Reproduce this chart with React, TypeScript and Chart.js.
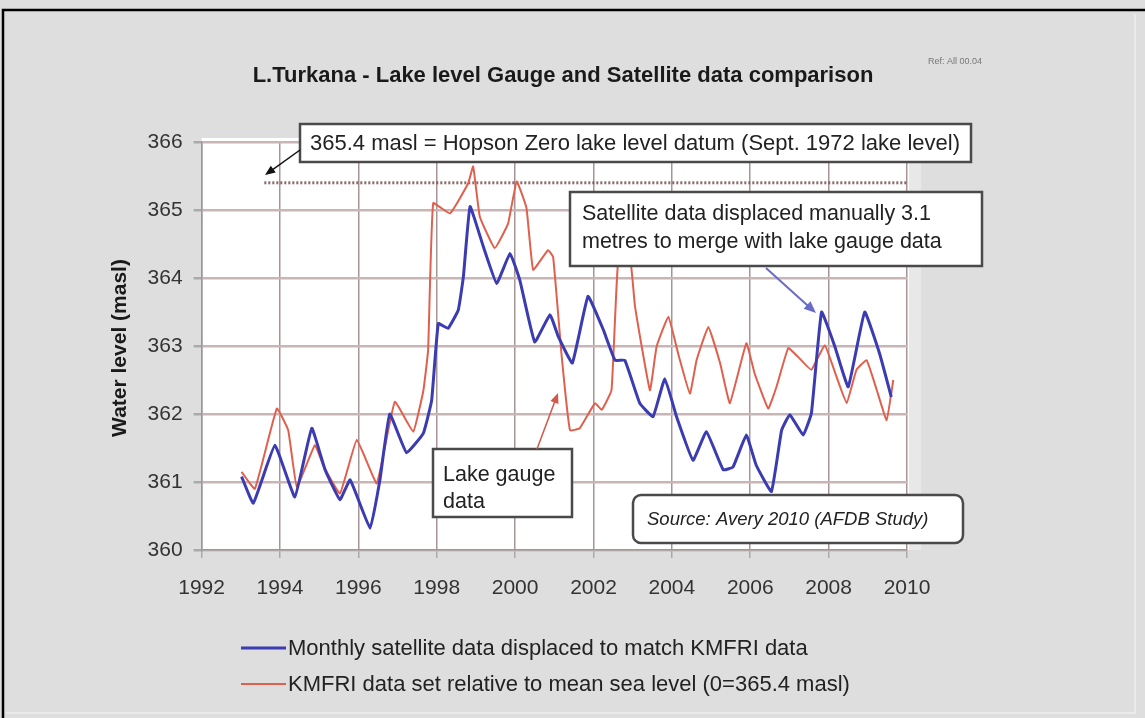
import { useEffect, useRef } from "react";
import { Chart, registerables } from "chart.js";

Chart.register(...registerables);

// Monthly satellite data (displaced) — decimal year / level (masl)
const satYears = [
  1993.02, 1993.32, 1993.87, 1994.38, 1994.81, 1995.15, 1995.53, 1995.79, 1996.3, 1996.55,
  1996.8, 1997.23, 1997.66, 1997.87, 1998.04, 1998.29, 1998.55, 1998.68, 1998.85, 1999.19,
  1999.53, 1999.87, 2000.12, 2000.5, 2000.89, 2001.1, 2001.46, 2001.86, 2002.25, 2002.55,
  2002.8, 2003.18, 2003.52, 2003.82, 2004.12, 2004.54, 2004.88, 2005.31, 2005.56, 2005.9,
  2006.15, 2006.54, 2006.8, 2007.01, 2007.35, 2007.56, 2007.82, 2008.16, 2008.5, 2008.92,
  2009.3, 2009.6,
];
const satLevels = [
  361.08, 360.69, 361.54, 360.78, 361.79, 361.18, 360.74, 361.03, 360.32, 361.03,
  362.0, 361.43, 361.72, 362.2, 363.33, 363.26, 363.53, 364.02, 365.05, 364.46,
  363.92, 364.36, 363.97, 363.06, 363.46, 363.14, 362.75, 363.73, 363.24, 362.79,
  362.79, 362.16, 361.96, 362.52, 361.96, 361.32, 361.74, 361.18, 361.22, 361.69,
  361.25, 360.86, 361.76, 361.99, 361.69, 362.01, 363.5, 362.99, 362.4, 363.5,
  362.89, 362.25,
];

// KMFRI lake gauge data relative to mean sea level
const gaugeYears = [
  1993.02, 1993.36, 1993.92, 1994.21, 1994.43, 1994.89, 1995.1, 1995.53, 1995.96, 1996.47,
  1996.93, 1997.4, 1997.66, 1997.78, 1997.91, 1998.34, 1998.8, 1998.93, 1999.1, 1999.48,
  1999.82, 2000.04, 2000.29, 2000.46, 2000.84, 2000.97, 2001.19, 2001.4, 2001.65, 2002.04,
  2002.21, 2002.46, 2002.63, 2002.93, 2003.06, 2003.44, 2003.61, 2003.91, 2004.16, 2004.46,
  2004.63, 2004.93, 2005.23, 2005.48, 2005.9, 2006.11, 2006.46, 2006.67, 2006.97, 2007.22,
  2007.56, 2007.9, 2008.2, 2008.46, 2008.71, 2008.97, 2009.23, 2009.48, 2009.65,
];
const gaugeLevels = [
  361.15, 360.9, 362.08, 361.76, 360.93, 361.54, 361.25, 360.83, 361.62, 360.98,
  362.18, 361.74, 362.35, 362.94, 365.1, 364.95, 365.39, 365.64, 364.9, 364.44,
  364.8, 365.42, 365.03, 364.12, 364.41, 364.31, 362.84, 361.76, 361.79, 362.16,
  362.06, 362.35, 364.25, 364.3, 363.58, 362.35, 362.99, 363.43, 362.89, 362.3,
  362.79, 363.28, 362.75, 362.16, 363.04, 362.6, 362.08, 362.4, 362.97, 362.84,
  362.65, 363.01, 362.55, 362.16, 362.65, 362.79, 362.35, 361.91, 362.5,
];

const yearMin = 1992;
const yearMax = 2010;
const yearStep = 2;
const levelMin = 360;
const levelMax = 366;
const levelStep = 1;
const hopsonDatum = 365.4;
const datumStartYear = 1993.6;

const chartTitle = "L.Turkana - Lake level Gauge and Satellite data comparison";
const refText = "Ref: All 00.04";
const yAxisTitle = "Water level (masl)";
const seriesLabels = [
  "Monthly satellite data displaced to match KMFRI data",
  "KMFRI data set relative to mean sea level (0=365.4 masl)",
];
const datumNote = "365.4 masl = Hopson Zero lake level datum (Sept. 1972 lake level)";
const satNote = ["Satellite data displaced manually 3.1", "metres to merge with lake gauge data"];
const gaugeNote = ["Lake gauge", "data"];
const sourceNote = "Source: Avery 2010 (AFDB Study)";

const BLUE = "#3b3bb2";
const RED = "#e0604e";
const FONT = "'Liberation Sans', Arial, sans-serif";

function arrow(ctx: CanvasRenderingContext2D, x1: number, y1: number, x2: number, y2: number, color: string, w: number, head: number) {
  const a = Math.atan2(y2 - y1, x2 - x1);
  ctx.save();
  ctx.strokeStyle = color;
  ctx.fillStyle = color;
  ctx.lineWidth = w;
  ctx.beginPath();
  ctx.moveTo(x1, y1);
  ctx.lineTo(x2 - Math.cos(a) * head * 0.7, y2 - Math.sin(a) * head * 0.7);
  ctx.stroke();
  ctx.beginPath();
  ctx.moveTo(x2, y2);
  ctx.lineTo(x2 - head * Math.cos(a - 0.4), y2 - head * Math.sin(a - 0.4));
  ctx.lineTo(x2 - head * Math.cos(a + 0.4), y2 - head * Math.sin(a + 0.4));
  ctx.closePath();
  ctx.fill();
  ctx.restore();
}

function box(ctx: CanvasRenderingContext2D, x1: number, y1: number, x2: number, y2: number, r: number) {
  ctx.save();
  ctx.fillStyle = "#ffffff";
  ctx.strokeStyle = "#4a4a4a";
  ctx.lineWidth = 2.5;
  ctx.beginPath();
  if (r > 0) {
    ctx.roundRect(x1, y1, x2 - x1, y2 - y1, r);
  } else {
    ctx.rect(x1, y1, x2 - x1, y2 - y1);
  }
  ctx.fill();
  ctx.stroke();
  ctx.restore();
}

const decor = {
  id: "decor",
  beforeDraw(chart: any) {
    const { ctx, chartArea } = chart;
    ctx.save();
    ctx.fillStyle = "#dedede";
    ctx.fillRect(0, 0, chart.width, chart.height);
    ctx.strokeStyle = "#000";
    ctx.lineWidth = 2.5;
    ctx.beginPath();
    ctx.moveTo(3, 718);
    ctx.lineTo(3, 10);
    ctx.lineTo(1145, 10);
    ctx.stroke();
    ctx.strokeStyle = "#eeeeee";
    ctx.lineWidth = 1.5;
    ctx.beginPath();
    ctx.moveTo(1135, 14);
    ctx.lineTo(1135, 713);
    ctx.lineTo(6, 713);
    ctx.stroke();
    ctx.fillStyle = "#e8e8e8";
    ctx.fillRect(chartArea.right, chartArea.top - 4, 14, chartArea.bottom - chartArea.top + 4);
    ctx.fillStyle = "#ffffff";
    ctx.fillRect(chartArea.left, chartArea.top - 4, chartArea.right - chartArea.left + 2, chartArea.bottom - chartArea.top + 4);
    ctx.restore();
  },
  beforeDatasetsDraw(chart: any) {
    const { ctx } = chart;
    const xs = chart.scales.x;
    const ys = chart.scales.y;
    const y = ys.getPixelForValue(hopsonDatum);
    ctx.save();
    ctx.strokeStyle = "rgba(120,80,80,0.85)";
    ctx.lineWidth = 3;
    ctx.setLineDash([2, 2]);
    ctx.beginPath();
    ctx.moveTo(xs.getPixelForValue(datumStartYear), y);
    ctx.lineTo(xs.getPixelForValue(yearMax), y);
    ctx.stroke();
    ctx.restore();
  },
  afterDraw(chart: any) {
    const { ctx } = chart;
    ctx.save();
    // title
    ctx.fillStyle = "#1a1a1a";
    ctx.textAlign = "center";
    ctx.textBaseline = "middle";
    ctx.font = `bold 22px ${FONT}`;
    ctx.fillText(chartTitle, 563, 76);
    ctx.font = `9px ${FONT}`;
    ctx.fillStyle = "#777";
    ctx.fillText(refText, 955, 62);

    // y axis title
    ctx.save();
    ctx.translate(120, 348);
    ctx.rotate(-Math.PI / 2);
    ctx.font = `bold 21px ${FONT}`;
    ctx.fillStyle = "#1a1a1a";
    ctx.fillText(yAxisTitle, 0, 0);
    ctx.restore();

    // annotations
    ctx.textAlign = "left";
    box(ctx, 300, 124, 971, 162, 0);
    ctx.fillStyle = "#222";
    ctx.font = `22px ${FONT}`;
    ctx.fillText(datumNote, 310, 144);
    arrow(ctx, 300, 150, 265, 175, "#111", 1.5, 11);

    box(ctx, 570, 192, 982, 266, 0);
    ctx.fillStyle = "#222";
    ctx.font = `21.5px ${FONT}`;
    ctx.fillText(satNote[0], 582, 214);
    ctx.fillText(satNote[1], 582, 242);
    arrow(ctx, 766, 268, 816, 313, "#6a6ac8", 2, 13);

    box(ctx, 433, 449, 572, 517, 0);
    ctx.fillStyle = "#222";
    ctx.fillText(gaugeNote[0], 443, 475);
    ctx.fillText(gaugeNote[1], 443, 502);
    arrow(ctx, 537, 449, 558, 393, "#d05a4a", 1.5, 11);

    box(ctx, 633, 495, 963, 543, 8);
    ctx.fillStyle = "#222";
    ctx.font = `italic 18.5px ${FONT}`;
    ctx.fillText(sourceNote, 647, 520);

    // legend
    ctx.lineWidth = 3;
    ctx.strokeStyle = BLUE;
    ctx.beginPath();
    ctx.moveTo(241, 648);
    ctx.lineTo(286, 648);
    ctx.stroke();
    ctx.lineWidth = 2;
    ctx.strokeStyle = RED;
    ctx.beginPath();
    ctx.moveTo(241, 684);
    ctx.lineTo(286, 684);
    ctx.stroke();
    ctx.font = `22px ${FONT}`;
    ctx.fillStyle = "#222";
    ctx.fillText(seriesLabels[0], 288, 649);
    ctx.fillText(seriesLabels[1], 288, 685);
    ctx.restore();
  },
};

export default function App() {
  const ref = useRef<HTMLCanvasElement>(null);
  useEffect(() => {
    if (!ref.current) return;
    const chart = new Chart(ref.current, {
      type: "line",
      data: {
        datasets: [
          {
            label: seriesLabels[0],
            data: satYears.map((x, i) => ({ x, y: satLevels[i] })),
            borderColor: BLUE,
            borderWidth: 3,
            pointRadius: 0,
            tension: 0.1,
          },
          {
            label: seriesLabels[1],
            data: gaugeYears.map((x, i) => ({ x, y: gaugeLevels[i] })),
            borderColor: RED,
            borderWidth: 2,
            pointRadius: 0,
            tension: 0.1,
          },
        ],
      },
      options: {
        animation: false,
        responsive: false,
        devicePixelRatio: 1,
        layout: { padding: { left: 100, right: 238, top: 142, bottom: 118 } },
        plugins: { legend: { display: false }, tooltip: { enabled: false }, title: { display: false } },
        scales: {
          x: {
            type: "linear",
            min: yearMin,
            max: yearMax,
            afterFit: (s: any) => { s.height = 50; },
            ticks: {
              stepSize: yearStep,
              callback: (v: any) => String(v),
              font: { family: FONT, size: 21 },
              color: "#333",
              padding: 18,
              maxRotation: 0,
            },
            grid: { color: "#a89494", lineWidth: 1.5, tickLength: 8, tickColor: "#aaa" },
            border: { color: "#999", width: 1.5 },
          },
          y: {
            min: levelMin,
            max: levelMax,
            afterFit: (s: any) => { s.width = 101.6; },
            ticks: {
              stepSize: levelStep,
              callback: (v: any) => String(v),
              font: { family: FONT, size: 21 },
              color: "#333",
              padding: 11,
            },
            grid: { color: "#c8b6b6", lineWidth: 2.5, tickLength: 8, tickColor: "#aaa" },
            border: { color: "#999", width: 1.5 },
          },
        },
      },
      plugins: [decor],
    });
    return () => chart.destroy();
  }, []);
  return (
    <div style={{ position: "fixed", left: 0, top: 0, width: 1145, height: 718 }}>
      <canvas ref={ref} width={1145} height={718} style={{ display: "block", width: 1145, height: 718 }} />
    </div>
  );
}
